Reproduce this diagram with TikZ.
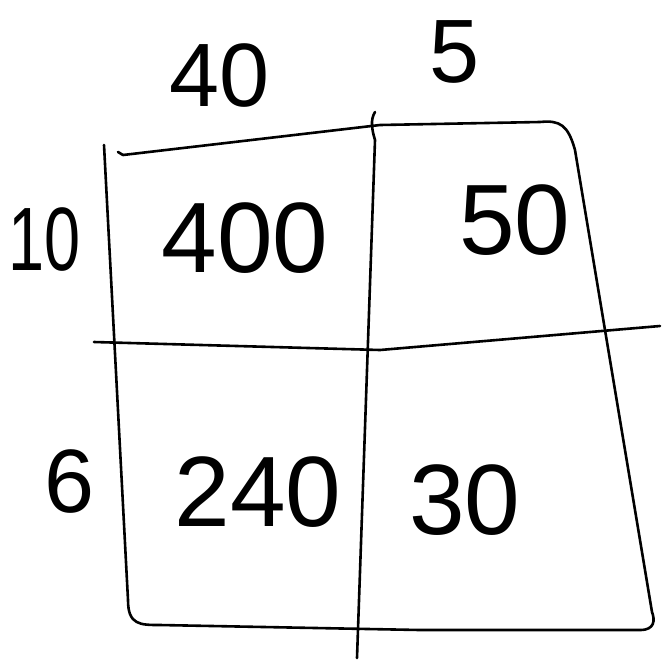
\documentclass[tikz,border=0pt]{standalone}
\usepackage{fontspec}
\setmainfont{Liberation Sans}
\usetikzlibrary{positioning}

\begin{document}
\begin{tikzpicture}[x=1pt,y=-1pt,
  pen/.style={line width=2.6pt, line cap=round, line join=round},
  num/.style={font=\fontsize{100}{100}\selectfont, inner sep=0pt},
  lab/.style={font=\fontsize{90}{90}\selectfont, inner sep=0pt}
]
\useasboundingbox[fill=white] (0,0) rectangle (663,662);

% corners of the grid
\coordinate (tl) at (104,145);
\coordinate (tm) at (375,112);
\coordinate (tr) at (540,122);
\coordinate (bl) at (128,600);
\coordinate (bm) at (357,658);
\coordinate (br) at (652,612);

% outline
\draw[pen] (tl) -- (bl) .. controls (128,625) and (140,625) .. (160,625)
  -- (420,630) -- (640,630) .. controls (655,630) and (655,620) .. (br)
  -- (575,150) .. controls (568,125) and (560,120) .. (tr)
  -- (380,125) -- (123,155);
\draw[pen] (123,155) -- (118,152);
% middle lines
\draw[pen] (tm) .. controls (370,120) and (372,130) .. (375,140) -- (bm);
\draw[pen] (94,342) -- (380,350) -- (660,326);

% labels on the sides
\node[lab] (t40) at (220,76) {40};
\node[lab] (t5)  at (455,52) {5};
\node[lab, xscale=0.72] (l10) at (45,240) {10};
\node[lab] (l6)  at (70,482) {6};

% cells
\node[num] (c400) at (245,238) {400};
\node[num] (c50)  at (515,220) {50};
\node[num] (c240) at (258,492) {240};
\node[num] (c30)  at (465,500) {30};
\end{tikzpicture}
\end{document}
